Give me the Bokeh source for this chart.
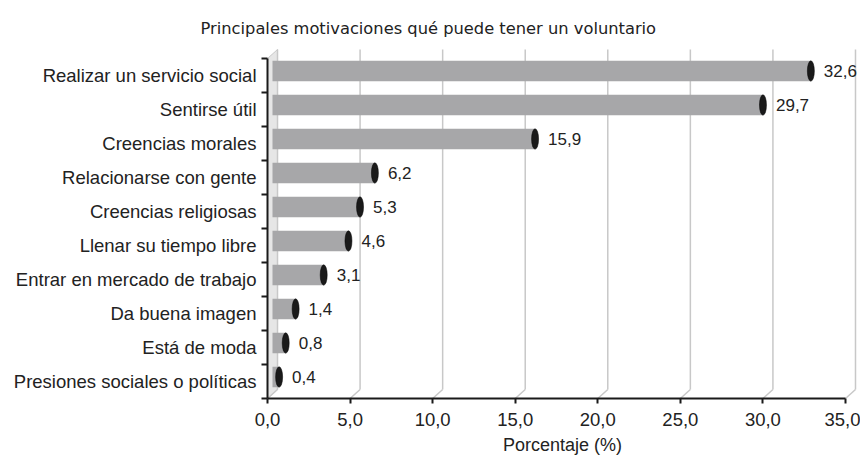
from bokeh.plotting import figure
from bokeh.models import Range1d, FixedTicker, Title
from bokeh.core.properties import value
from bokeh.embed import file_html
from bokeh.resources import INLINE

categories = ["Realizar un servicio social", "Sentirse útil", "Creencias morales",
              "Relacionarse con gente", "Creencias religiosas", "Llenar su tiempo libre",
              "Entrar en mercado de trabajo", "Da buena imagen", "Está de moda",
              "Presiones sociales o políticas"]
values = [32.6, 29.7, 15.9, 6.2, 5.3, 4.6, 3.1, 1.4, 0.8, 0.4]
x_ticks = [0, 5, 10, 15, 20, 25, 30, 35]
x_tick_labels = ["0,0", "5,0", "10,0", "15,0", "20,0", "25,0", "30,0", "35,0"]

title_text = "Principales motivaciones qué puede tener un voluntario"
x_label = "Porcentaje (%)"

# depth of the pseudo-3D box in data units
DX = 10 / 16.5
DY = 9 / 34.0
n = len(categories)
ypos = [n - 0.5 - i for i in range(n)]

FONT = "Liberation Sans"

p = figure(width=860, height=457, output_backend="svg", toolbar_location=None,
           x_range=Range1d(0, 35 + 12 / 16.5), y_range=Range1d(0, n + 10 / 34.0),
           min_border_left=267, min_border_right=3, min_border_top=48, min_border_bottom=10)
p.outline_line_color = None
p.grid.visible = False
p.background_fill_color = "white"

# title
p.title = Title(text=title_text, align="left", offset=-67, text_font="DejaVu Sans",
                text_font_size="16.3px", text_font_style="normal", text_color="#222222",
                standoff=21)

# left wall
p.patch([0, 0, DX, DX], [0, n, n + DY, DY], fill_color="#e6e6e6", line_color="#c8c8c8",
        line_width=1)
# floor diagonals and back grid lines
p.segment(x0=[t for t in x_ticks], y0=[0] * len(x_ticks),
          x1=[t + DX for t in x_ticks], y1=[DY] * len(x_ticks),
          line_color="#c8c8c8", line_width=1.5)
p.segment(x0=[t + DX for t in x_ticks], y0=[DY] * len(x_ticks),
          x1=[t + DX for t in x_ticks], y1=[n + DY] * len(x_ticks),
          line_color="#c8c8c8", line_width=1.5)

# bars (mid depth)
bar_y = [y + DY / 2 for y in ypos]
ends = [v + DX / 2 for v in values]
p.hbar(y=bar_y, left=DX / 2, right=ends, height=0.6, fill_color="#a7a7a9",
       line_color=None)
p.ellipse(x=ends, y=bar_y, width=7, height=0.6, width_units="screen",
          fill_color="#1a1a1a", line_color="#000000", line_width=0.5)
p.text(x=ends, y=bar_y, text=[f"{v:.1f}".replace(".", ",") for v in values],
       x_offset=13, text_baseline="middle", text_align="left",
       text_font=value(FONT), text_font_size="17px", text_color="#222222")

# axes
xa = p.xaxis[0]
xa.ticker = FixedTicker(ticks=x_ticks)
xa.major_label_overrides = {float(t): l for t, l in zip(x_ticks, x_tick_labels)}
xa.bounds = (0, 35)
xa.axis_line_color = "#1a1a1a"
xa.axis_line_width = 2
xa.major_tick_line_color = "#1a1a1a"
xa.major_tick_line_width = 2
xa.major_tick_out = 5
xa.major_tick_in = 0
xa.minor_tick_line_color = None
xa.major_label_text_font = FONT
xa.major_label_text_font_size = "18.5px"
xa.major_label_text_color = "#222222"
xa.major_label_standoff = 9
xa.axis_label = x_label
xa.axis_label_text_font = FONT
xa.axis_label_text_font_size = "18px"
xa.axis_label_text_font_style = "normal"
xa.axis_label_text_color = "#222222"
xa.axis_label_standoff = 6

ya = p.yaxis[0]
ya.ticker = FixedTicker(ticks=ypos, minor_ticks=list(range(n + 1)))
ya.major_label_overrides = {float(y): c for y, c in zip(ypos, categories)}
ya.bounds = (0, n)
ya.axis_line_color = "#1a1a1a"
ya.axis_line_width = 2
ya.major_tick_line_color = None
ya.major_tick_out = 0
ya.major_tick_in = 0
ya.minor_tick_line_color = "#1a1a1a"
ya.minor_tick_line_width = 2
ya.minor_tick_out = 6
ya.minor_tick_in = 0
ya.major_label_text_font = FONT
ya.major_label_text_font_size = "18.5px"
ya.major_label_text_color = "#222222"
ya.major_label_standoff = 5

open("out.html", "w").write(file_html(p, INLINE))
